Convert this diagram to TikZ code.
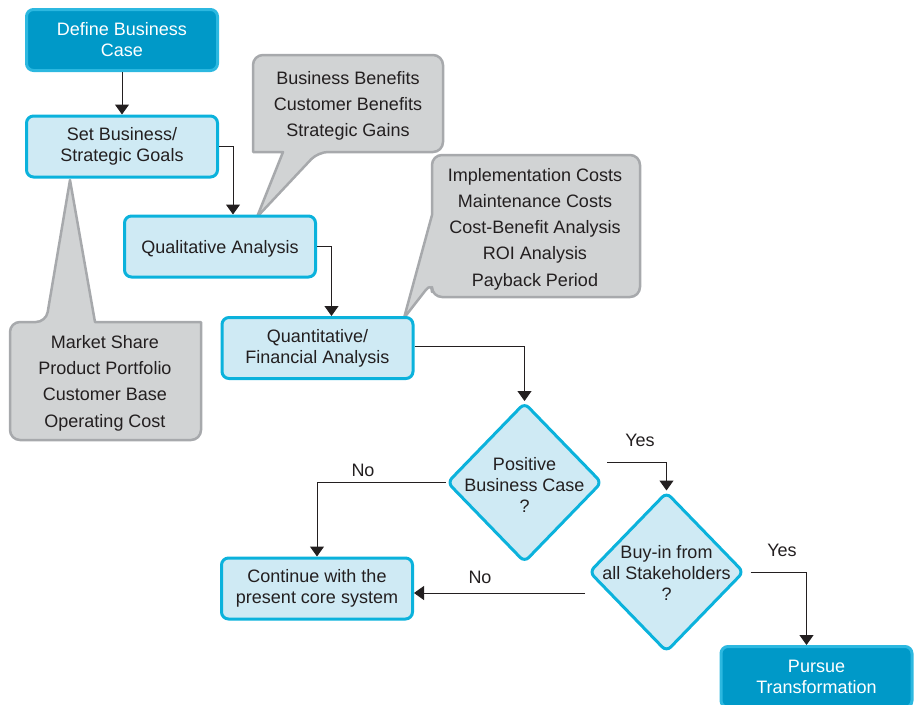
\documentclass[tikz,border=0pt]{standalone}
\usepackage{fontspec}
\setmainfont{Liberation Sans}
\usetikzlibrary{shapes.geometric,arrows.meta,calc}
\definecolor{darkteal}{HTML}{0099C8}
\definecolor{darkedge}{HTML}{2CB8E0}
\definecolor{lightfill}{HTML}{CFEAF4}
\definecolor{cyanedge}{HTML}{0BB2DC}
\definecolor{grayfill}{HTML}{D1D3D4}
\definecolor{grayedge}{HTML}{A7A9AC}
\definecolor{ink}{HTML}{231F20}
\begin{document}
\begin{tikzpicture}[x=1pt,y=-1pt,
  every node/.style={text=ink},
  flowbox/.style={draw=cyanedge, fill=lightfill, line width=3pt, rounded corners=7pt,
    minimum width=191pt, minimum height=61pt, inner sep=0pt, align=center,
    font=\fontsize{18}{21}\selectfont, execute at begin node={\rule{0pt}{17pt}}},
  darkbox/.style={flowbox, fill=darkteal, draw=darkedge, text=white},
  decision/.style={diamond, draw=cyanedge, fill=lightfill, line width=3pt, rounded corners=6pt,
    inner sep=0pt, minimum width=155pt, minimum height=160pt},
  diatext/.style={align=center, inner sep=0pt, font=\fontsize{18}{21}\selectfont},
  callout/.style={draw=grayedge, fill=grayfill, line width=2.5pt, line join=round},
  ctext/.style={align=center, inner sep=0pt, font=\fontsize{18}{26.3}\selectfont},
  arr/.style={draw=ink, line width=1pt, -{Triangle[width=14pt,length=10pt]}},
  lbl/.style={inner sep=0pt, font=\fontsize{18}{21}\selectfont}
]
\useasboundingbox (0,0) rectangle (917,704);
\clip (0,0) rectangle (917,704);

% callouts
\draw[callout] (10,380) [rounded corners=10pt] -- (10,322) -- (46,322) [sharp corners] -- (70,180) -- (95,322) -- (201,322) [rounded corners=10pt] -- (201,440) -- (10,440) -- cycle;
\node[ctext] (c1) at (105,383) {Market Share\\Product Portfolio\\Customer Base\\Operating Cost};

\draw[callout] (253,100) [rounded corners=10pt] -- (253,55) -- (443,55) -- (443,152) -- (318,152) [sharp corners] -- (257,217) -- (283,152) -- (253,152) [rounded corners=10pt] -- cycle;
\node[ctext] (c2) at (348,106) {Business Benefits\\Customer Benefits\\Strategic Gains};

\draw[callout] (536,155) [rounded corners=10pt] -- (640,155) -- (640,297) -- (432,297) -- (432,282) [sharp corners] -- (404,318) -- (432,215) [rounded corners=10pt] -- (432,155) -- cycle;
\node[ctext] (c3) at (535,229) {Implementation Costs\\Maintenance Costs\\Cost-Benefit Analysis\\ROI Analysis\\Payback Period};

% boxes
\node[darkbox] (def) at (122,40) {Define Business\\Case};
\node[flowbox] (set) at (122,146.5) {Set Business/\\Strategic Goals};
\node[flowbox] (qual) at (220,246.5) {Qualitative Analysis};
\node[flowbox] (quant) at (317.5,348) {Quantitative/\\Financial Analysis};
\node[flowbox] (cont) at (317,588.5) {Continue with the\\present core system};
\node[darkbox] (pur) at (816.5,677) {Pursue\\Transformation};

% decisions
\node[decision] (d1) at (524.5,482.5) {};
\node[diatext] (d1t) at (524.5,485) {Positive\\Business Case\\?};
\node[decision] (d2) at (666.5,572) {};
\node[diatext] (d2t) at (666.5,573) {Buy-in from\\all Stakeholders\\?};

% connectors
\draw[arr] (def.south) -- (set.north);
\draw[arr] (set.east) -| ($(qual.north west)+(110,0)$);
\draw[arr] (qual.east) -| ($(quant.north west)+(111,0)$);
\draw[arr] ($(quant.east)+(0,-2)$) -| (d1.north);
\draw[arr] (d1.west) -| (cont.north);
\coordinate (y1) at (607,462);
\draw[arr] (y1) -| (d2.north);
\coordinate (n2) at (585,593);
\draw[arr] (n2) -- (n2 -| cont.east);
\draw[arr] ($(d2.east)+(5,0)$) -| ($(pur.north west)+(87,0)$);

% labels
\node[lbl] (no1) at (363,470) {No};
\node[lbl] (yes1) at (640,440) {Yes};
\node[lbl] (no2) at (480,577) {No};
\node[lbl] (yes2) at (782,550) {Yes};
\end{tikzpicture}
\end{document}
